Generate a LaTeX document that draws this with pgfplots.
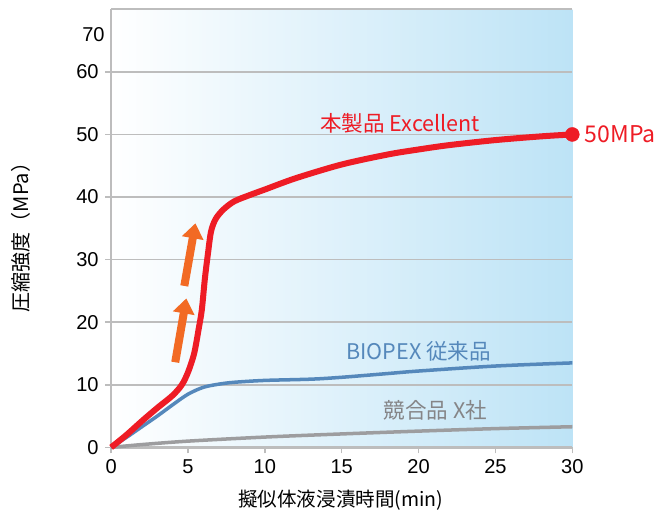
\documentclass[border=0pt]{standalone}
\usepackage{pgfplots}
\pgfplotsset{compat=1.18}
\usepackage{fontspec}
\setmainfont{Liberation Sans}
\newfontfamily\cjk{Noto Sans CJK JP}
\usetikzlibrary{arrows.meta}
\definecolor{redc}{HTML}{EE1C25}
\definecolor{bluec}{HTML}{5588BB}
\definecolor{grayc}{HTML}{9D9D9F}
\definecolor{gridc}{HTML}{BDBDBD}
\definecolor{bgblue}{HTML}{BDE3F6}
\definecolor{orangec}{HTML}{F26A24}
\begin{document}
\begin{tikzpicture}
\begin{axis}[
  scale only axis, width=460pt, height=437pt,
  xmin=0, xmax=30, ymin=0, ymax=70,
  clip=false,
  axis background/.style={left color=white, right color=bgblue},
  axis x line*=bottom, axis y line*=left,
  axis line style={-, gridc, line width=2.5pt},
  xtick={0,5,...,30}, ytick={0,10,...,60},
  extra y ticks={66}, extra y tick labels={70},
  extra y tick style={grid=none, major tick length=0pt},
  tick align=outside, major tick length=6pt,
  tick style={gridc, line width=1.5pt},
  ymajorgrids, grid style={gridc, line width=1.5pt},
  /pgf/number format/assume math mode=true,
  ticklabel style={font=\fontsize{20}{23}\selectfont, text=black},
  xticklabel style={yshift=-3pt},
  yticklabel style={xshift=-3pt},
  xlabel={\cjk\fontsize{19.5}{22}\selectfont 擬似体液浸漬時間(min)},
  ylabel={\cjk\fontsize{20}{23}\selectfont 圧縮強度（MPa）},
  xlabel style={at={(axis description cs:0.498,0)}, anchor=center, yshift=-53pt},
  ylabel style={at={(axis description cs:0,0.49)}, anchor=center, rotate=0, yshift=90pt},
]
\draw[gridc, line width=2pt] (rel axis cs:0,1) -- (rel axis cs:1,1);
\addplot[grayc, line width=3.5pt, smooth] coordinates {
(0,0) (2,0.45) (5,1.0) (10,1.65) (15,2.15) (20,2.6) (25,3.0) (30,3.3)};
\addplot[bluec, line width=3.5pt, smooth] coordinates {
(0,0) (1,1.6) (2,3.3) (3,5.0) (4,6.8) (5,8.5) (6,9.6) (7,10.1) (8,10.4) (10,10.7) (13,10.9) (15,11.2) (18,11.8) (20,12.2) (25,13.0) (30,13.5)};
\addplot[redc, line width=6pt, smooth, tension=0.5] coordinates {
(0,0) (1,2) (2,4.2) (3,6.3) (4,8.3) (4.6,10) (5,12) (5.4,15) (5.7,19) (5.9,22) (6.1,27) (6.3,31) (6.5,34.5) (6.8,36.5) (7.3,38) (8,39.3) (9,40.3) (10,41.2) (12,43) (15,45.2) (18,46.8) (20,47.6) (22,48.3) (25,49.1) (28,49.7) (30,50)};
\addplot[only marks, mark=*, mark size=7pt, redc] coordinates {(30,50)};
\draw[orangec, line width=8pt, -{Triangle[width=21pt,length=15pt]}] (axis cs:4.17,13.6) -- (axis cs:4.89,23.8);
\draw[orangec, line width=8pt, -{Triangle[width=21pt,length=15pt]}] (axis cs:4.76,25.8) -- (axis cs:5.48,35.8);
\node[text=redc, font=\cjk\fontsize{21.5}{24}\selectfont] at (axis cs:18.8,51.8) {本製品 Excellent};
\node[text=redc, font=\cjk\fontsize{23}{26}\selectfont, anchor=west] at ([xshift=9pt]axis cs:30,50) {50MPa};
\node[text=bluec, font=\cjk\fontsize{21.5}{24}\selectfont] at (axis cs:20,15.3) {BIOPEX 従来品};
\node[text=grayc!85!black, font=\cjk\fontsize{21.5}{24}\selectfont] at (axis cs:21.1,5.9) {競合品 X社};
\end{axis}
\path (current bounding box.north west) ++(-8pt,8pt);
\end{tikzpicture}
\end{document}
